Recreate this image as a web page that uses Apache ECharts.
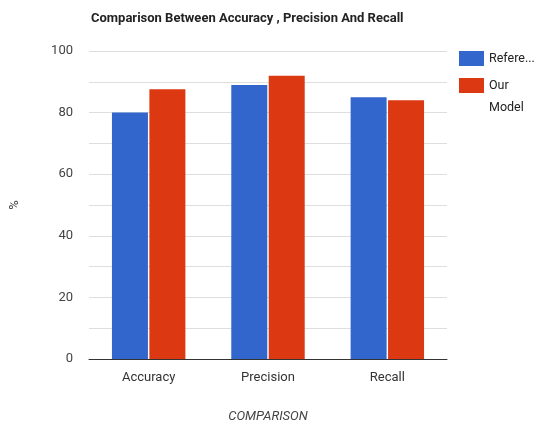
<!DOCTYPE html>
<html>
<head>
<meta charset="utf-8">
<script src="https://cdn.jsdelivr.net/npm/echarts@6/dist/echarts.min.js"></script>
<style>
  html, body { margin: 0; padding: 0; background: #fff; }
  #chart { width: 537px; height: 429px; }
</style>
</head>
<body>
<div id="chart"></div>
<script>
// data
const categories = ['Accuracy', 'Precision', 'Recall']
const seriesNames = ['Reference Model', 'Our Model']
const referenceValues = [80, 89, 85]
const ourModelValues = [87.6, 92, 84]

const chart = echarts.init(document.getElementById('chart'))
const option = {
  animation: false,
  color: ['#3366cc', '#dc3912'],
  title: {
    text: 'Comparison Between Accuracy , Precision And Recall',
    left: 86,
    top: 7,
    textStyle: {
      fontFamily: 'Roboto, sans-serif',
      fontSize: 13,
      fontWeight: 'bold',
      color: '#222'
    }
  },
  legend: {
    orient: 'vertical',
    left: 459,
    top: 47.5,
    padding: 0,
    itemWidth: 25,
    itemHeight: 15,
    itemGap: -17,
    itemStyle: { borderWidth: 0 },
    icon: 'rect',
    data: seriesNames,
    formatter: function (name) {
      // legend text is cut short in the original; the empty first line
      // keeps the icon level with "Our"
      return name === 'Our Model' ? '\nOur\nModel' : 'Refere...'
    },
    textStyle: {
      fontFamily: 'Roboto, sans-serif',
      fontSize: 12.5,
      color: '#222',
      lineHeight: 22
    }
  },
  grid: {
    left: 89,
    right: 90,
    top: 51,
    bottom: 70
  },
  xAxis: {
    type: 'category',
    data: categories,
    name: 'COMPARISON',
    nameLocation: 'middle',
    nameGap: 51,
    nameTextStyle: {
      fontFamily: 'Roboto, sans-serif',
      fontSize: 13,
      fontStyle: 'italic',
      color: '#444'
    },
    axisLine: { lineStyle: { color: '#333', width: 1 } },
    axisTick: { show: false },
    axisLabel: {
      margin: 12,
      fontFamily: 'Roboto, sans-serif',
      fontSize: 13,
      color: '#333'
    }
  },
  yAxis: {
    type: 'value',
    min: 0,
    max: 100,
    interval: 10,
    name: '%',
    nameLocation: 'middle',
    nameGap: 68,
    nameRotate: 90,
    nameTextStyle: {
      fontFamily: 'Roboto, sans-serif',
      fontSize: 13,
      color: '#333'
    },
    axisLine: { show: false },
    axisTick: { show: false },
    splitLine: { lineStyle: { color: '#dedede' } },
    axisLabel: {
      margin: 16,
      fontFamily: 'Roboto, sans-serif',
      fontSize: 13,
      color: '#444',
      formatter: function (v) {
        return v % 20 === 0 ? String(v) : ''
      }
    }
  },
  series: [
    {
      name: seriesNames[0],
      type: 'bar',
      data: referenceValues,
      barWidth: 36,
      barGap: '4%'
    },
    {
      name: seriesNames[1],
      type: 'bar',
      data: ourModelValues,
      barWidth: 36,
      barGap: '4%'
    }
  ]
}
chart.setOption(option)
</script>
</body>
</html>
